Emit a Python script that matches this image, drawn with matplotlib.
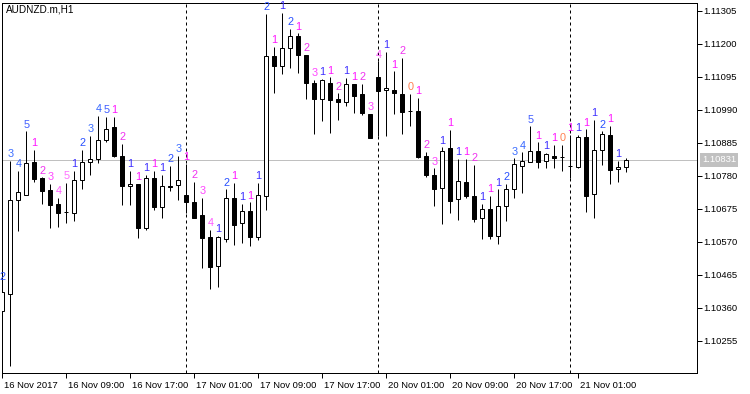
import matplotlib
matplotlib.use("Agg")
import matplotlib.pyplot as plt
import matplotlib.transforms as mtransforms
import numpy as np

plt.rcParams['font.family'] = ['Liberation Sans', 'DejaVu Sans']

symbol_title = "AUDNZD.m,H1"

opens = [1.10350, 1.10403, 1.10702, 1.10720, 1.10824, 1.10772, 1.10735, 1.10689, 1.10664, 1.10660,
         1.10765, 1.10823, 1.10833, 1.10894, 1.10935, 1.10843, 1.10746, 1.10754, 1.10613, 1.10772,
         1.10682, 1.10748, 1.10750, 1.10719, 1.10698, 1.10655, 1.10584, 1.10494, 1.10579, 1.10709,
         1.10629, 1.10667, 1.10586, 1.10714, 1.11162, 1.11128, 1.11186, 1.11225, 1.11165, 1.11075,
         1.11024, 1.11075, 1.11023, 1.11015, 1.11072, 1.11040, 1.10977, 1.11093, 1.11052, 1.11053,
         1.11040, 1.10987, 1.10987, 1.10843, 1.10783, 1.10740, 1.10867, 1.10705, 1.10760, 1.10717,
         1.10644, 1.10674, 1.10589, 1.10685, 1.10737, 1.10811, 1.10825, 1.10859, 1.10827, 1.10843,
         1.10839, 1.10811, 1.10809, 1.10904, 1.10721, 1.10861, 1.10910, 1.10800, 1.10807]
highs = [1.10436, 1.10827, 1.10795, 1.10921, 1.10862, 1.10775, 1.10754, 1.10709, 1.10758, 1.10795,
         1.10862, 1.10908, 1.10971, 1.10967, 1.10967, 1.10881, 1.10796, 1.10755, 1.10783, 1.10795,
         1.10783, 1.10811, 1.10844, 1.10818, 1.10761, 1.10709, 1.10608, 1.10588, 1.10737, 1.10758,
         1.10690, 1.10695, 1.10758, 1.11295, 1.11191, 1.11298, 1.11247, 1.11234, 1.11166, 1.11085,
         1.11088, 1.11094, 1.11043, 1.11091, 1.11073, 1.11073, 1.10978, 1.11144, 1.11175, 1.11112,
         1.11156, 1.11040, 1.11029, 1.10857, 1.10804, 1.10871, 1.10926, 1.10834, 1.10834, 1.10815,
         1.10690, 1.10717, 1.10737, 1.10754, 1.10836, 1.10855, 1.10937, 1.10886, 1.10854, 1.10878,
         1.10878, 1.10910, 1.10910, 1.10928, 1.10958, 1.10921, 1.10940, 1.10827, 1.10836]
lows = [1.10327, 1.10175, 1.10604, 1.10718, 1.10761, 1.10691, 1.10615, 1.10618, 1.10631, 1.10637,
        1.10737, 1.10784, 1.10822, 1.10887, 1.10840, 1.10687, 1.10687, 1.10581, 1.10608, 1.10671,
        1.10644, 1.10730, 1.10703, 1.10662, 1.10646, 1.10486, 1.10419, 1.10427, 1.10568, 1.10560,
        1.10567, 1.10557, 1.10574, 1.10671, 1.11045, 1.11104, 1.11124, 1.11107, 1.11024, 1.10912,
        1.10953, 1.10916, 1.10958, 1.11003, 1.10981, 1.10974, 1.10899, 1.10905, 1.10905, 1.10976,
        1.10913, 1.10940, 1.10836, 1.10777, 1.10685, 1.10626, 1.10663, 1.10639, 1.10709, 1.10632,
        1.10578, 1.10578, 1.10562, 1.10636, 1.10709, 1.10724, 1.10824, 1.10806, 1.10804, 1.10806,
        1.10796, 1.10773, 1.10806, 1.10664, 1.10647, 1.10815, 1.10755, 1.10760, 1.10793]
closes = [1.10409, 1.10703, 1.10728, 1.10821, 1.10771, 1.10730, 1.10688, 1.10663, 1.10665, 1.10766,
          1.10823, 1.10833, 1.10893, 1.10928, 1.10843, 1.10746, 1.10753, 1.10613, 1.10772, 1.10681,
          1.10747, 1.10744, 1.10766, 1.10695, 1.10647, 1.10583, 1.10488, 1.10584, 1.10709, 1.10624,
          1.10667, 1.10586, 1.10718, 1.11160, 1.11131, 1.11186, 1.11225, 1.11163, 1.11075, 1.11024,
          1.11085, 1.11022, 1.11015, 1.11072, 1.11035, 1.10981, 1.10900, 1.11050, 1.11060, 1.11042,
          1.10982, 1.10987, 1.10840, 1.10781, 1.10737, 1.10859, 1.10701, 1.10764, 1.10714, 1.10643,
          1.10674, 1.10589, 1.10684, 1.10737, 1.10817, 1.10826, 1.10859, 1.10823, 1.10849, 1.10835,
          1.10839, 1.10811, 1.10904, 1.10717, 1.10861, 1.10914, 1.10799, 1.10807, 1.10831]

label_texts = ["2", "3", "4", "5", "1", "2", "3", "4", "5", "1",
               "2", "3", "4", "5", "1", "2", "1", "1", "1", "1",
               "1", "2", "3", "1", "2", "3", "4", "1", "2", "1",
               "1", "1", "1", "2", "1", "1", "2", "1", "2", "3",
               "1", "1", "2", "1", "1", "2", "3", "4", "1", "1",
               "2", "0", "1", "2", "3", "1", "1", "1", "1", "2",
               "1", "1", "1", "2", "3", "4", "5", "1", "1", "1",
               "0", "1", "1", "1", "1", "2", "1", "1", ""]
label_sides = ["b", "b", "b", "b", "m", "m", "m", "m", "m", "b",
               "b", "b", "b", "b", "m", "m", "b", "m", "b", "m",
               "b", "b", "b", "m", "m", "m", "m", "b", "b", "m",
               "b", "m", "b", "b", "m", "b", "b", "m", "m", "m",
               "b", "m", "m", "b", "m", "m", "m", "m", "b", "m",
               "m", "o", "m", "m", "m", "b", "m", "b", "m", "m",
               "b", "m", "b", "b", "b", "b", "b", "m", "b", "m",
               "o", "m", "b", "m", "b", "b", "m", "b", ""]

xtick_bars = [0, 8, 16, 24, 32, 40, 48, 56, 64, 72]
xtick_labels = ["16 Nov 2017", "16 Nov 09:00", "16 Nov 17:00", "17 Nov 01:00", "17 Nov 09:00",
                "17 Nov 17:00", "20 Nov 01:00", "20 Nov 09:00", "20 Nov 17:00", "21 Nov 01:00"]
day_separators = [23, 47, 71]
yticks = [1.10255, 1.10360, 1.10465, 1.10570, 1.10675, 1.10780, 1.10885, 1.10990, 1.11095, 1.11200, 1.11305]
current_price = 1.10831

blue_cols = {"1": "#3c2dff", "2": "#2850ff", "3": "#3c6eff", "4": "#3264ff", "5": "#3c5aff"}
mag_cols = {"1": "#ff14ff", "2": "#f032f0", "3": "#ff46ff", "4": "#ff5aff", "5": "#ff6eff"}
orange_col = "#ff7f50"

W, H = 750, 394
fig = plt.figure(figsize=(W / 100, H / 100), dpi=100)
ax = fig.add_axes([2.3 / W, 1 - 373 / H, (697 - 2.3) / W, (373 - 2.7) / H])

n = len(opens)
x = np.arange(n)
o = np.array(opens); c = np.array(closes); hi = np.array(highs); lo = np.array(lows)

lw = 0.72
# separators
for s in day_separators:
    ax.axvline(s - 0.08, color="black", lw=lw, linestyle=(0, (3, 3)), zorder=1)
# current price line
ax.axhline(current_price, color="#c0c0c0", lw=lw, zorder=1)

# wicks
ax.vlines(x, lo, hi, color="black", lw=lw, zorder=2)
# bodies
up = c >= o
ax.bar(x[up], (c - o)[up], bottom=o[up], width=0.5, facecolor="white", edgecolor="black", linewidth=lw, zorder=3)
ax.bar(x[~up], (c - o)[~up], bottom=o[~up], width=0.5, facecolor="black", edgecolor="black", linewidth=lw, zorder=3)

# labels
for i in range(n):
    t = label_texts[i]
    if not t:
        continue
    side = label_sides[i]
    if side == "b":
        col = blue_cols[t]
    elif side == "m":
        col = mag_cols[t]
    else:
        col = orange_col
    ax.annotate(t, xy=(x[i], hi[i]), xytext=(0, 2.6), textcoords="offset points",
                ha="center", va="baseline", fontsize=7.8, color=col, zorder=4)

ax.set_xlim(0.0, 86.84)
ax.set_ylim(1.10152, 1.11331)

ax.yaxis.tick_right()
ax.set_yticks(yticks)
ax.set_yticklabels([f"{v:.5f}" for v in yticks])
ax.tick_params(axis="y", direction="out", length=3.5, width=lw, labelsize=6.8, pad=1.2, colors="black")

ax.set_xticks(xtick_bars)
ax.set_xticklabels(xtick_labels)
ax.tick_params(axis="x", direction="out", length=3.5, width=lw, labelsize=6.8, pad=2.0, colors="black")
offset = mtransforms.ScaledTranslation(1.5 / 100, 0, fig.dpi_scale_trans)
for lab in ax.get_xticklabels():
    lab.set_horizontalalignment("left")
    lab.set_transform(lab.get_transform() + offset)

for sp in ax.spines.values():
    sp.set_linewidth(lw)
    sp.set_color("black")

# title
ax.annotate(symbol_title, xy=(0, 1), xycoords="axes fraction", xytext=(4, -1.5),
            textcoords="offset pixels", ha="left", va="top", fontsize=7.2, color="black")

# current price box
ax.annotate(f"{current_price:.5f}", xy=(1, current_price), xycoords=("axes fraction", "data"),
            xytext=(5, 0), textcoords="offset pixels", ha="left", va="center", fontsize=6.8,
            color="white", annotation_clip=False,
            bbox=dict(boxstyle="square,pad=0.25", facecolor="#c0c0c0", edgecolor="none"))

fig.savefig("out.png", dpi=100, facecolor="white")
